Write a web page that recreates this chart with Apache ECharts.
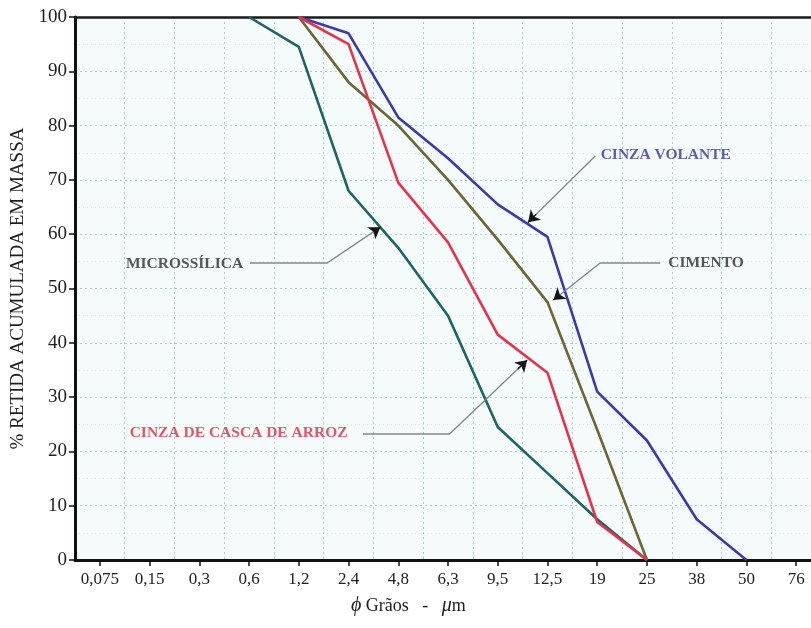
<!DOCTYPE html>
<html>
<head>
<meta charset="utf-8">
<script src="https://cdn.jsdelivr.net/npm/echarts@6/dist/echarts.min.js"></script>
<style>
  html, body { margin: 0; padding: 0; background: #ffffff; }
  #chart { width: 811px; height: 628px; }
</style>
</head>
<body>
<div id="chart"></div>
<script>
// Sieve sizes (µm) shown on the horizontal axis
const sieveSizes = ['0,075', '0,15', '0,3', '0,6', '1,2', '2,4', '4,8', '6,3', '9,5', '12,5', '19', '25', '38', '50', '76'];
const yTicks = [0, 10, 20, 30, 40, 50, 60, 70, 80, 90, 100];

// Cumulative retained mass (%) per sieve, null where the material has no reading
const microssilica = [null, null, null, 100, 94.5, 68, 57.5, 45, 24.5, 16, 7.5, 0, null, null, null];
const cinzaCasca   = [null, null, null, null, 100, 95, 69.5, 58.5, 41.5, 34.5, 7, 0, null, null, null];
const cimento      = [null, null, null, null, 100, 88, 80, 70, 59, 47.5, 24, 0, null, null, null];
const cinzaVolante = [null, null, null, null, 100, 97, 81.5, 74, 65.5, 59.5, 31, 22, 7.5, 0, null];

// Callout labels: [sieve position, y value] anchor of the text
const labelMicro   = [2.88, 54.6];
const labelCasca   = [4.98, 23.3];
const labelVolante = [10.07, 74.6];
const labelCimento = [11.43, 54.7];

// Callout leader lines (sieve position, y value), ending in an arrow head
const leaderMicro   = [[3.02, 54.7], [4.57, 54.7], [5.64, 61.3]];
const leaderCasca   = [[5.29, 23.2], [7.03, 23.2], [8.59, 36.8]];
const leaderVolante = [[9.96, 74.4], [8.61, 62.2]];
const leaderCimento = [[11.27, 54.7], [10.06, 54.7], [9.12, 47.9]];

const SERIF = '"Liberation Serif", "DejaVu Serif", serif';

function curve(name, data, color) {
  return {
    name, type: 'line', data, color,
    xAxisIndex: 0,
    symbol: 'none', connectNulls: false,
    lineStyle: { width: 2.6, color },
    z: 3
  };
}

function callout(text, coord, color, side) {
  return {
    type: 'scatter',
    xAxisIndex: 1,
    data: [coord],
    symbolSize: 0,
    silent: true,
    z: 6,
    label: {
      show: true,
      position: side,
      distance: 0,
      formatter: text,
      color,
      fontFamily: SERIF,
      fontWeight: 'bold',
      fontSize: 15.5
    }
  };
}

// Grey polyline plus a short dark tip carrying the arrow head
function leader(coords) {
  const a = coords[coords.length - 2];
  const b = coords[coords.length - 1];
  const t = 0.88;
  const tipStart = [a[0] + (b[0] - a[0]) * t, a[1] + (b[1] - a[1]) * t];
  return [{
    type: 'lines',
    coordinateSystem: 'cartesian2d',
    xAxisIndex: 1,
    polyline: true,
    silent: true,
    z: 5,
    lineStyle: { color: '#808a8a', width: 1.3, opacity: 1 },
    data: [{ coords }]
  }, {
    type: 'lines',
    coordinateSystem: 'cartesian2d',
    xAxisIndex: 1,
    silent: true,
    z: 5,
    symbol: ['none', 'arrow'],
    symbolSize: 11,
    lineStyle: { color: '#151515', width: 1.3, opacity: 1 },
    data: [{ coords: [tipStart, b] }]
  }];
}

const chart = echarts.init(document.getElementById('chart'), null, { renderer: 'canvas' });

chart.setOption({
  backgroundColor: '#ffffff',
  animation: false,
  grid: {
    left: 75, top: 17, bottom: 68, width: 746,
    outerBoundsMode: 'none',
    containLabel: false,
    show: true,
    backgroundColor: '#f5fafa',
    borderWidth: 0
  },
  xAxis: [{
    type: 'category',
    data: sieveSizes,
    boundaryGap: true,
    axisLine: { show: true, onZero: false, lineStyle: { color: '#111', width: 3 } },
    axisTick: { show: true, alignWithLabel: true, length: 6, lineStyle: { color: '#111', width: 1.5 } },
    axisLabel: { color: '#1e1e1e', fontFamily: SERIF, fontSize: 17, margin: 11, interval: 0 },
    splitLine: {
      show: true,
      interval: 0,
      lineStyle: { color: '#a9cfcf', type: [2, 3], width: 1 }
    }
  }, {
    // continuous companion of the sieve axis, used by the callouts; its line is the top frame
    type: 'value',
    min: -0.5,
    max: sieveSizes.length - 0.5,
    position: 'top',
    axisLine: { show: true, onZero: false, lineStyle: { color: '#1a1a1a', width: 2.5 } },
    axisTick: { show: false },
    axisLabel: { show: false },
    splitLine: { show: false }
  }],
  yAxis: {
    type: 'value',
    min: yTicks[0],
    max: yTicks[yTicks.length - 1],
    interval: 10,
    position: 'left',
    name: '% RETIDA ACUMULADA EM MASSA',
    nameLocation: 'middle',
    nameGap: 38,
    nameRotate: 90,
    nameTextStyle: { color: '#1e1e1e', fontFamily: SERIF, fontSize: 19 },
    axisLine: { show: true, onZero: false, lineStyle: { color: '#111', width: 3 } },
    axisTick: { show: true, length: 6, lineStyle: { color: '#111', width: 1.5 } },
    axisLabel: { color: '#1e1e1e', fontFamily: SERIF, fontSize: 19, margin: 8 },
    splitLine: { show: true, lineStyle: { color: '#a9cfcf', type: [2, 3], width: 1 } },
    minorTick: { show: false, splitNumber: 2 },
    minorSplitLine: { show: true, lineStyle: { color: '#d4e8e8', type: [1, 3], width: 1 } }
  },
  graphic: [{
    type: 'text',
    left: 351,
    top: 596,
    style: {
      text: '{i|ϕ} Grãos   -   {i|μ}m',
      fill: '#1e1e1e',
      font: '18px ' + SERIF,
      rich: {
        i: { fontStyle: 'italic', fontFamily: SERIF, fontSize: 20, fill: '#1e1e1e' }
      }
    }
  }],
  series: [
    curve('MICROSSÍLICA', microssilica, '#1f6464'),
    curve('CIMENTO', cimento, '#6b6636'),
    curve('CINZA VOLANTE', cinzaVolante, '#3a3aae'),
    curve('CINZA DE CASCA DE ARROZ', cinzaCasca, '#e8324c'),
    ...leader(leaderMicro),
    ...leader(leaderCasca),
    ...leader(leaderVolante),
    ...leader(leaderCimento),
    callout('MICROSSÍLICA', labelMicro, '#2a3030', 'left'),
    callout('CINZA DE CASCA DE ARROZ', labelCasca, '#e02a45', 'left'),
    callout('CINZA VOLANTE', labelVolante, '#3535a8', 'right'),
    callout('CIMENTO', labelCimento, '#2a2a2a', 'right')
  ]
});
</script>
</body>
</html>
